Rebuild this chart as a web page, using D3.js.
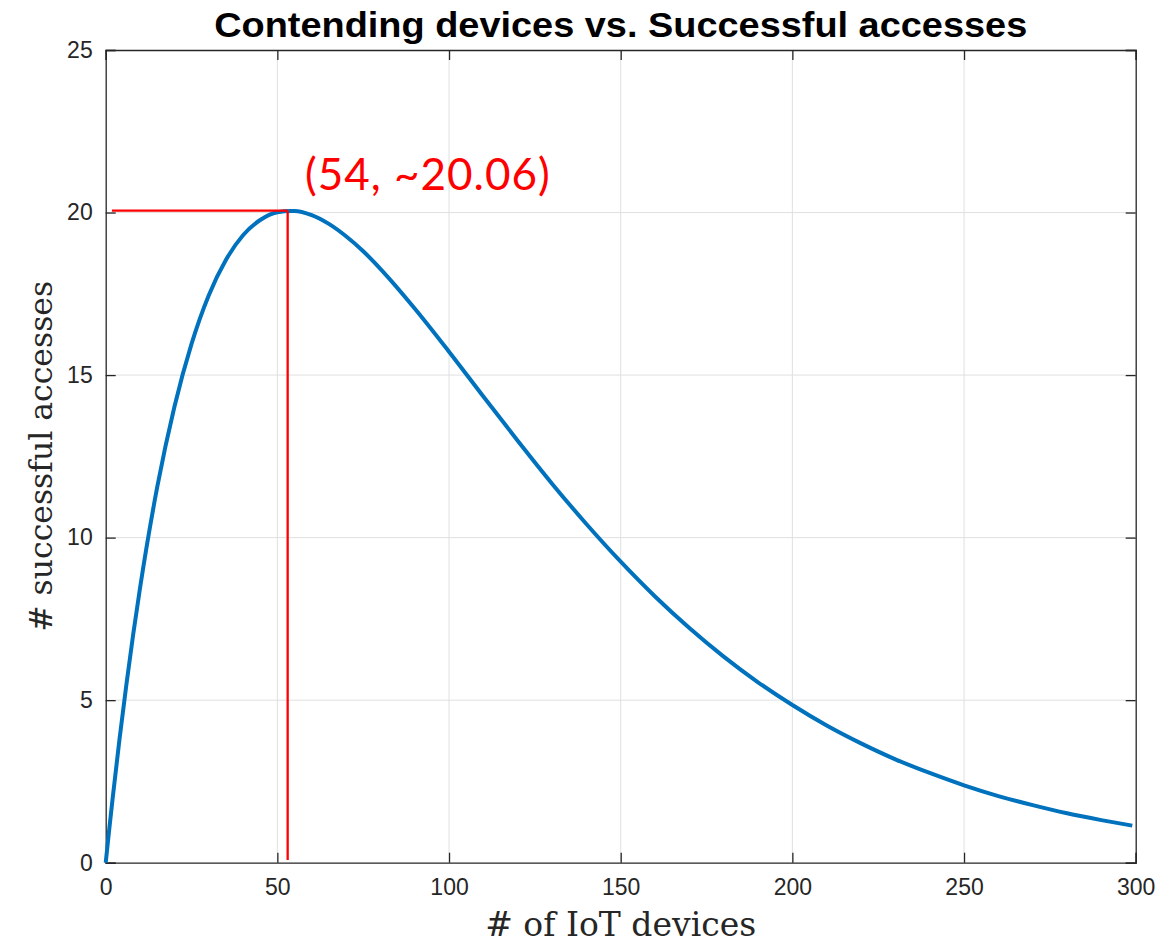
<!DOCTYPE html>
<html>
<head>
<meta charset="utf-8">
<script src="https://cdn.jsdelivr.net/npm/d3@7"></script>
<style>
  html, body { margin: 0; padding: 0; background: #fff; }
  svg { display: block; }
</style>
</head>
<body>
<svg id="chart" width="1176" height="943"></svg>
<script>
// ---- data ----
const devices = [0, 1, 2, 4, 6, 8, 10, 15, 20, 25, 30, 35, 40, 45, 50, 54, 55, 60, 65, 70, 75, 80, 90, 100,
  110, 120, 130, 140, 150, 160, 170, 180, 190, 200, 210, 220, 230, 240, 250, 260, 270, 280, 290, 299];
const successes = [0, 1.0, 1.96, 3.78, 5.46, 7.02, 8.45, 11.55, 14.02, 15.96, 17.45, 18.54, 19.30, 19.77, 20.01, 20.05, 20.05, 19.92, 19.65, 19.27, 18.81, 18.27, 17.05, 15.72,
  14.34, 12.98, 11.66, 10.42, 9.26, 8.19, 7.22, 6.34, 5.55, 4.85, 4.22, 3.67, 3.18, 2.76, 2.38, 2.05, 1.77, 1.52, 1.31, 1.14];
const xTicks = [0, 50, 100, 150, 200, 250, 300];
const yTicks = [0, 5, 10, 15, 20, 25];
const peakX = 53;          // where the red marker lines sit
const peakY = 20.06;
const markerStartX = 1.8;
const markerBottomY = 0.08;
const annotationText = "(54, ~20.06)";
const titleText = "Contending devices vs. Successful accesses";
const xLabelText = "# of IoT devices";
const yLabelText = "# successful accesses";

// ---- layout ----
const svg = d3.select("#chart");
const L = 105.7, R = 1135.7, T = 50, B = 862.7;
const x = d3.scaleLinear().domain([0, 300]).range([L, R]);
const y = d3.scaleLinear().domain([0, 25]).range([B, T]);

const tickColor = "#262626";
const gridColor = "#e0e0e0";

// grid
const g = svg.append("g");
g.selectAll(".vg").data(xTicks.slice(1, -1)).enter().append("line")
  .attr("x1", d => x(d)).attr("x2", d => x(d)).attr("y1", T).attr("y2", B)
  .attr("stroke", gridColor).attr("stroke-width", 1);
g.selectAll(".hg").data(yTicks.slice(1, -1)).enter().append("line")
  .attr("y1", d => y(d)).attr("y2", d => y(d)).attr("x1", L).attr("x2", R)
  .attr("stroke", gridColor).attr("stroke-width", 1);

// axes (inward ticks, MATLAB box)
const axB = d3.axisBottom(x).tickValues(xTicks).tickSize(-10).tickPadding(16).tickFormat(d3.format("d"));
const axT = d3.axisTop(x).tickValues(xTicks).tickSize(-10).tickFormat("");
const axL = d3.axisLeft(y).tickValues(yTicks).tickSize(-10).tickPadding(13).tickFormat(d3.format("d"));
const axR = d3.axisRight(y).tickValues(yTicks).tickSize(-10).tickFormat("");

function style(sel) {
  sel.selectAll("path").attr("stroke", tickColor).attr("stroke-width", 1.3);
  sel.selectAll("line").attr("stroke", tickColor).attr("stroke-width", 1.3);
  sel.selectAll("text").attr("fill", tickColor).attr("font-family", "Liberation Sans, Arial, sans-serif").attr("font-size", 23);
}
style(svg.append("g").attr("transform", `translate(0,${B})`).call(axB));
style(svg.append("g").attr("transform", `translate(0,${T})`).call(axT));
style(svg.append("g").attr("transform", `translate(${L},0)`).call(axL));
style(svg.append("g").attr("transform", `translate(${R},0)`).call(axR));

// curve
const data = devices.map((d, i) => [d, successes[i]]);
svg.append("path").datum(data)
  .attr("fill", "none").attr("stroke", "#0072BD").attr("stroke-width", 4)
  .attr("stroke-linejoin", "round").attr("stroke-linecap", "butt")
  .attr("d", d3.line().x(d => x(d[0])).y(d => y(d[1])).curve(d3.curveMonotoneX));

// red marker lines
svg.append("line")
  .attr("x1", x(markerStartX)).attr("x2", x(peakX)).attr("y1", y(peakY)).attr("y2", y(peakY))
  .attr("stroke", "#ff0000").attr("stroke-width", 2.3);
svg.append("line")
  .attr("x1", x(peakX)).attr("x2", x(peakX)).attr("y1", y(peakY)).attr("y2", y(markerBottomY))
  .attr("stroke", "#ff0000").attr("stroke-width", 2.3);

// annotation
svg.append("text").attr("x", 305).attr("y", 190)
  .attr("fill", "#ff0000").attr("font-family", "Lato, 'Noto Sans', sans-serif").attr("font-size", 44)
  .attr("letter-spacing", 1)
  .text(annotationText);

// title
svg.append("text")
  .attr("transform", `translate(${(L + R) / 2},37) scale(1.053,1)`)
  .attr("text-anchor", "middle")
  .attr("font-family", "Liberation Sans, Arial, sans-serif").attr("font-weight", "bold").attr("font-size", 36)
  .attr("fill", "#000").text(titleText);

// axis labels
svg.append("text").attr("x", (L + R) / 2).attr("y", 936).attr("text-anchor", "middle")
  .attr("font-family", "'DejaVu Serif', serif").attr("font-size", 33)
  .attr("fill", tickColor).text(xLabelText);
svg.append("text").attr("transform", `translate(52,${(T + B) / 2}) rotate(-90)`).attr("text-anchor", "middle")
  .attr("font-family", "'DejaVu Serif', serif").attr("font-size", 31.5)
  .attr("fill", tickColor).text(yLabelText);
</script>
</body>
</html>
